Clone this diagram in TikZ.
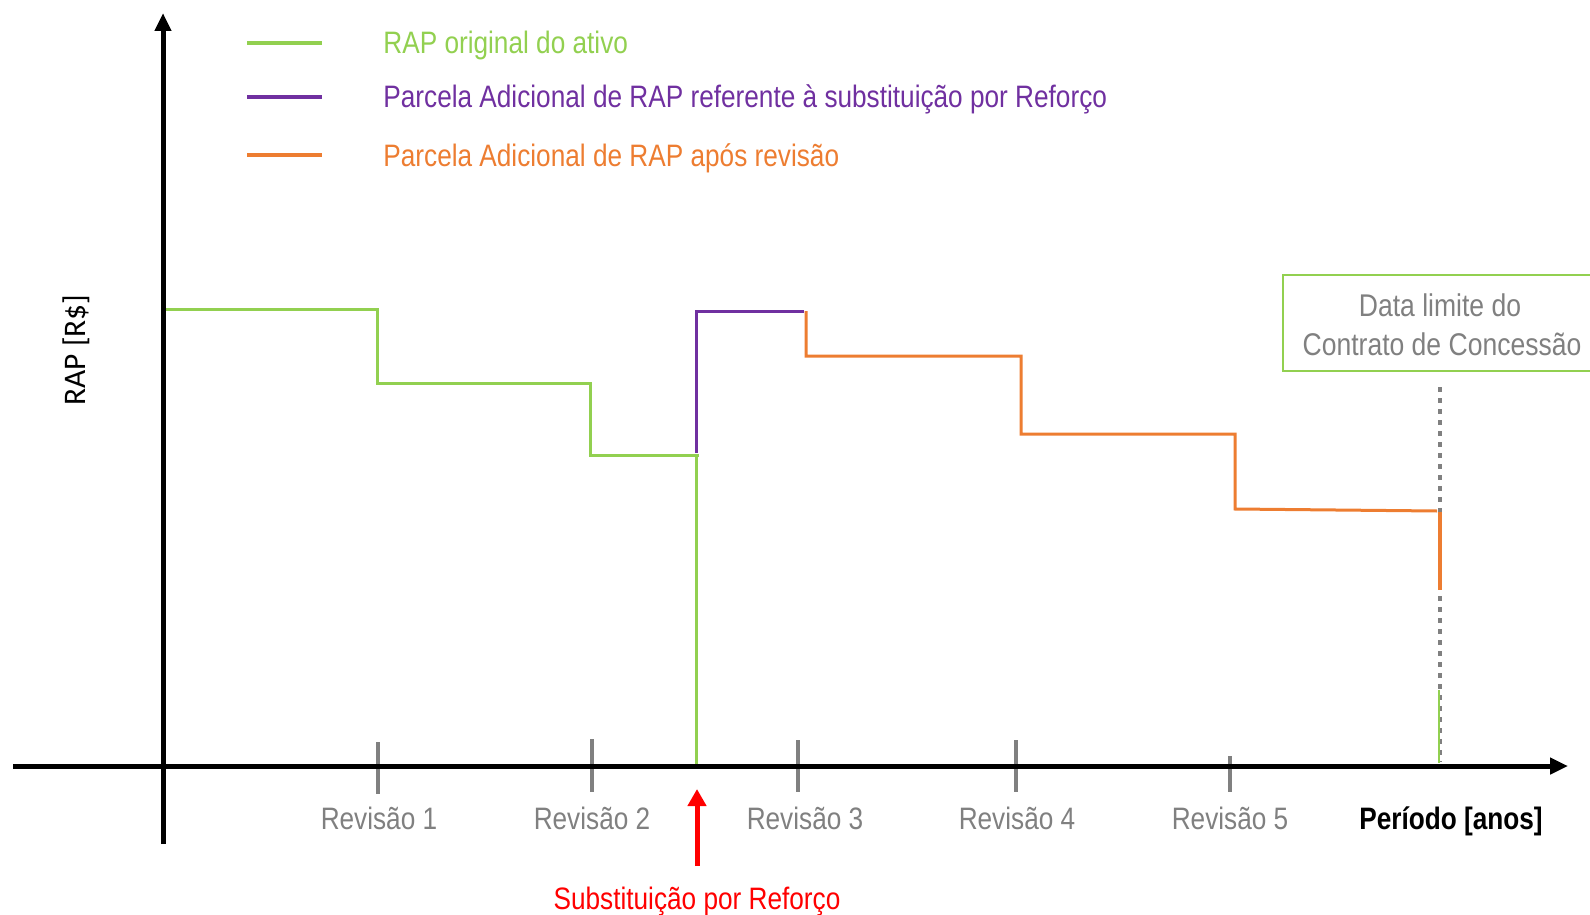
\documentclass[tikz,border=0pt]{standalone}
\usepackage{fontspec}
\setmainfont[FakeStretch=0.845]{Liberation Sans}
\newfontfamily\carlito{Carlito}
\usetikzlibrary{arrows.meta}
\definecolor{rapgreen}{HTML}{92D050}
\definecolor{rappurple}{HTML}{7030A0}
\definecolor{raporange}{HTML}{ED7D31}
\definecolor{rapgray}{HTML}{808080}
\definecolor{rapred}{HTML}{FF0000}
\begin{document}
\begin{tikzpicture}[x=0.5pt,y=-0.5pt,
  txt/.style={inner sep=0pt, font=\fontsize{15.5}{18}\selectfont},
  legtxt/.style={txt, anchor=base west},
  revtxt/.style={txt, anchor=base, text=rapgray},
  axisline/.style={line width=2.5pt, black, -{Triangle[length=9pt,width=8pt]}},
  stepline/.style={line width=1.5pt},
  legline/.style={line width=2pt},
  tickmark/.style={line width=2pt, rapgray},
]
\useasboundingbox (0,0) rectangle (1590,915);
\clip (0,0) rectangle (1590,915);

% coordinates
\coordinate (xstart) at (13,766);
\coordinate (xend) at (1568,766);
\coordinate (ystart) at (163,844);
\coordinate (yend) at (163,13);

% legend
\draw[legline, rapgreen] (247,43) -- (322,43);
\draw[legline, rappurple] (247,97) -- (322,97);
\draw[legline, raporange] (247,155) -- (322,155);
\node[legtxt, text=rapgreen] (leg1) at (383,54) {RAP original do ativo};
\node[legtxt, text=rappurple] (leg2) at (383,108) {Parcela Adicional de RAP referente à substituição por Reforço};
\node[legtxt, text=raporange] (leg3) at (383,166) {Parcela Adicional de RAP após revisão};

% box
\draw[rapgreen, line width=1pt] (1283,275) rectangle (1600,371);
\node[txt, anchor=base, text=rapgray, font=\fontsize{15.7}{19}\selectfont] (box1) at (1440,316) {Data limite do};
\node[txt, anchor=base, text=rapgray, font=\fontsize{15.7}{19}\selectfont] (box2) at (1442,355) {Contrato de Concessão};

% dotted limit line
\draw[rapgray, line width=2pt, dash pattern=on 2.5pt off 3pt] (1440,387) -- (1440,762);
\draw[rapgreen, line width=0.6pt] (1439,690) -- (1439,763);

% green step
\draw[stepline, rapgreen] (163,309) -- (377,309) -- (377,383) -- (590,383) -- (590,455) -- (699,455);
\draw[stepline, rapgreen] (696,455) -- (696,766);
% purple
\draw[stepline, rappurple] (696,453) -- (696,311) -- (804,311);
% orange
\draw[stepline, raporange] (806,311) -- (806,356) -- (1021,356) -- (1021,434) -- (1235,434) -- (1235,509) -- (1437,511);
\draw[stepline, raporange, line width=2pt] (1440,512) -- (1440,590);

% ticks
\draw[tickmark] (378,742) -- (378,794);
\draw[tickmark] (592,739) -- (592,792);
\draw[tickmark] (798,740) -- (798,792);
\draw[tickmark] (1016,740) -- (1016,792);
\draw[tickmark] (1230,756) -- (1230,792);

% axes
\draw[axisline] (xstart) -- (xend);
\draw[axisline] (ystart) -- (yend);

% labels
\node[revtxt] (r1) at (379,829) {Revisão 1};
\node[revtxt] (r2) at (592,829) {Revisão 2};
\node[revtxt] (r3) at (805,829) {Revisão 3};
\node[revtxt] (r4) at (1017,829) {Revisão 4};
\node[revtxt] (r5) at (1230,829) {Revisão 5};
\node[txt, anchor=base, font=\fontsize{15.5}{18}\selectfont\bfseries] (periodo) at (1451,829) {Período [anos]};
\node[txt, rotate=90, font=\fontsize{15.7}{18}\selectfont\carlito] (rap) at (76,350) {RAP [R\$]};

% red arrow
\node[txt, anchor=base, text=rapred, font=\fontsize{15.5}{18}\selectfont] (subst) at (697,909) {Substituição por Reforço};
\coordinate (redtail) at (697,866);
\coordinate (redtip) at (697,789);
\draw[rapred, line width=2.5pt, -{Triangle[length=8.5pt,width=9pt]}] (redtail) -- (redtip);
\end{tikzpicture}
\end{document}
